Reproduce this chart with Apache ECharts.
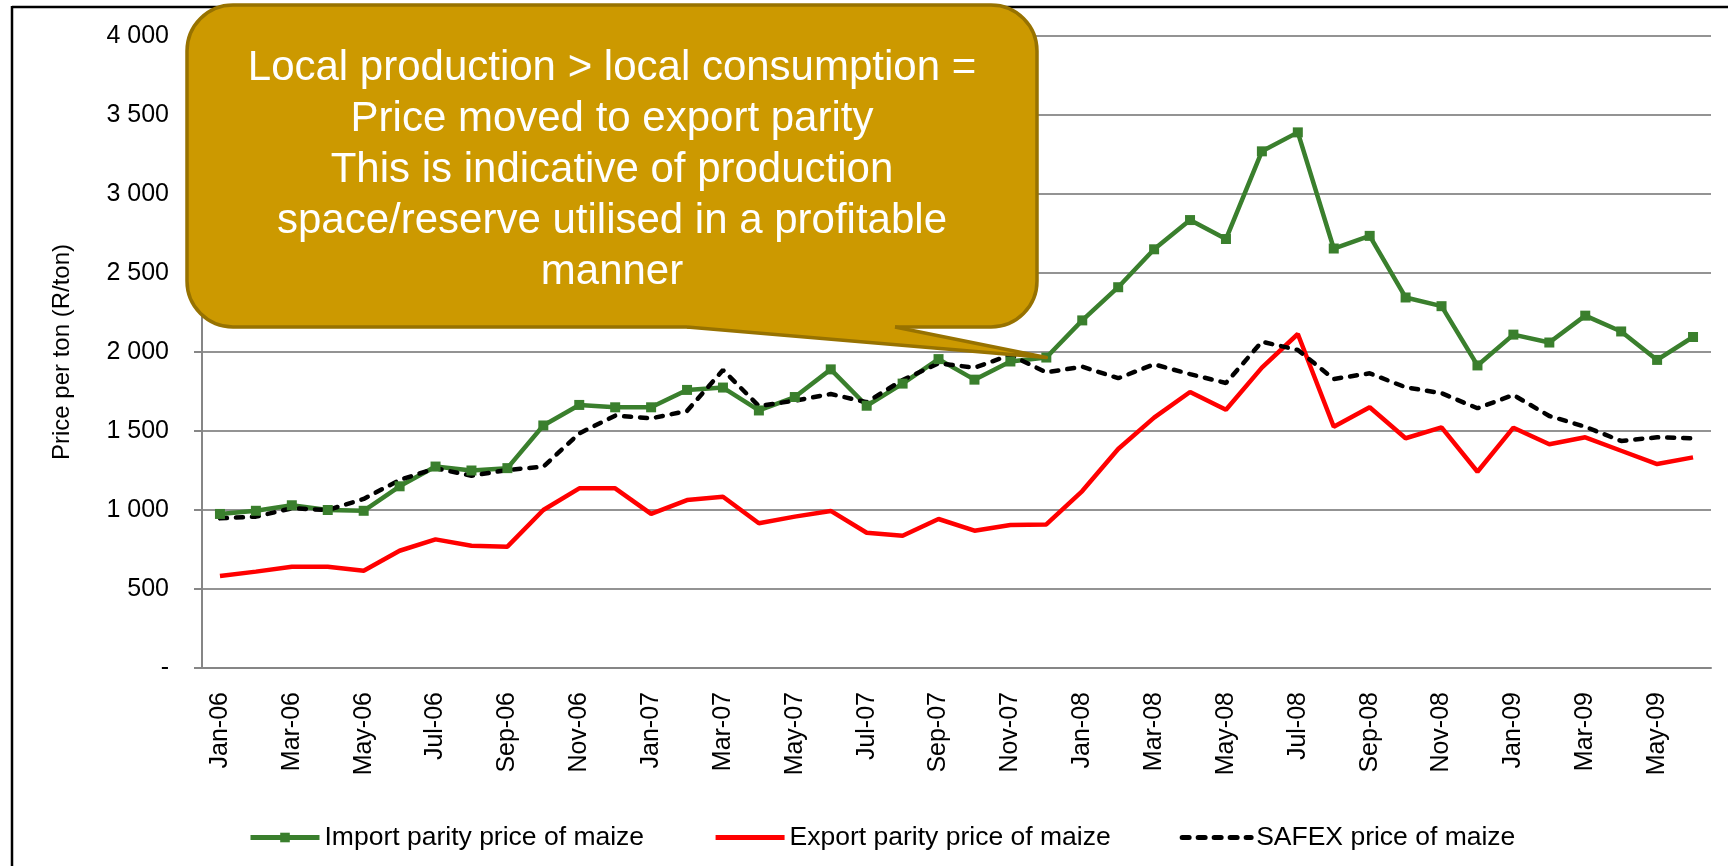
<!DOCTYPE html>
<html>
<head>
<meta charset="utf-8">
<title>Maize prices</title>
<script src="https://cdn.jsdelivr.net/npm/echarts@6/dist/echarts.min.js"></script>
<style>
    html, body { margin: 0; padding: 0; background: #fff; }
    #main { width: 1728px; height: 866px; }
</style>
</head>
<body>
<div id="main"></div>
<script>
// months Jan-06 .. Jun-09
var months = ['Jan-06','Feb-06','Mar-06','Apr-06','May-06','Jun-06','Jul-06','Aug-06','Sep-06','Oct-06','Nov-06','Dec-06',
    'Jan-07','Feb-07','Mar-07','Apr-07','May-07','Jun-07','Jul-07','Aug-07','Sep-07','Oct-07','Nov-07','Dec-07',
    'Jan-08','Feb-08','Mar-08','Apr-08','May-08','Jun-08','Jul-08','Aug-08','Sep-08','Oct-08','Nov-08','Dec-08',
    'Jan-09','Feb-09','Mar-09','Apr-09','May-09','Jun-09'];

// R/ton
var importParity = [975, 995, 1030, 1000, 995, 1150, 1275, 1250, 1265, 1535, 1665, 1650,
    1650, 1760, 1775, 1630, 1715, 1890, 1660, 1800, 1955, 1825, 1940, 1965,
    2200, 2410, 2650, 2835, 2715, 3270, 3390, 2655, 2735, 2345, 2290, 1915,
    2110, 2060, 2230, 2130, 1950, 2095];
var exportParity = [582, 610, 641, 641, 616, 742, 814, 774, 768, 1000, 1137, 1137,
    975, 1063, 1084, 916, 958, 994, 856, 837, 943, 869, 905, 909,
    1120, 1386, 1585, 1747, 1635, 1901, 2114, 1527, 1650, 1454, 1523, 1242,
    1521, 1416, 1460, 1375, 1291, 1333];
var safex = [947, 958, 1011, 1000, 1070, 1190, 1264, 1217, 1253, 1274, 1485, 1597,
    1580, 1627, 1886, 1658, 1692, 1734, 1682, 1823, 1928, 1901, 1981, 1871,
    1907, 1834, 1922, 1860, 1804, 2065, 2013, 1829, 1865, 1777, 1739, 1644,
    1728, 1595, 1527, 1437, 1460, 1454];

var seriesNames = ['Import parity price of maize', 'Export parity price of maize', 'SAFEX price of maize'];
var calloutLines = ['Local production > local consumption =', 'Price moved to export parity',
    'This is indicative of production', 'space/reserve utilised in a profitable', 'manner'];
var calloutIndex = 23; // Dec-07, where the pointer ends

var font = '"Liberation Sans", Arial, sans-serif';
var myChart = echarts.init(document.getElementById('main'));

function fmtThousands(v) {
    if (v === 0) return '-';
    var s = String(v);
    return s.length > 3 ? s.slice(0, s.length - 3) + ' ' + s.slice(-3) : s;
}

var option = {
    backgroundColor: '#fff',
    animation: false,
    textStyle: { fontFamily: font },
    grid: { left: 202, right: 17, top: 36, bottom: 198, outerBoundsMode: 'none' },
    legend: {
        left: 243, top: 819,
        itemWidth: 69, itemHeight: 12, itemGap: 69,
        lineStyle: { width: 5 },
        textStyle: { fontSize: 26.5, color: '#000', fontFamily: font },
        data: [
            { name: seriesNames[0] },
            { name: seriesNames[1], itemStyle: { opacity: 0 } },
            { name: seriesNames[2], itemStyle: { opacity: 0 } }
        ]
    },
    xAxis: {
        type: 'category',
        data: months,
        boundaryGap: true,
        axisLine: { lineStyle: { color: '#868686', width: 2 } },
        axisTick: { interval: 1, length: 7, lineStyle: { color: '#868686', width: 2 } },
        axisLabel: { interval: 1, rotate: 90, margin: 24, fontSize: 25, color: '#000', fontFamily: font }
    },
    yAxis: {
        type: 'value',
        min: 0, max: 4000, interval: 500,
        name: 'Price per ton (R/ton)',
        nameLocation: 'middle',
        nameGap: 128,
        nameTextStyle: { fontSize: 24, color: '#000', fontFamily: font },
        axisLine: { show: true, lineStyle: { color: '#868686', width: 2 } },
        axisTick: { show: true, length: 8, lineStyle: { color: '#868686', width: 2 } },
        axisLabel: { margin: 33, fontSize: 25, color: '#000', fontFamily: font, formatter: fmtThousands },
        splitLine: { lineStyle: { color: '#939393', width: 2 } }
    },
    series: [
        {
            name: seriesNames[0], type: 'line', data: importParity,
            symbol: 'rect', symbolSize: 10, showSymbol: true,
            itemStyle: { color: '#3a7f2d' },
            lineStyle: { color: '#3a7f2d', width: 4.5 }
        },
        {
            name: seriesNames[1], type: 'line', data: exportParity,
            symbol: 'none',
            itemStyle: { color: '#ff0000' },
            lineStyle: { color: '#ff0000', width: 4.5 }
        },
        {
            name: seriesNames[2], type: 'line', data: safex,
            symbol: 'none',
            itemStyle: { color: '#000' },
            lineStyle: { color: '#000', width: 4.5, type: [7, 9], cap: 'round' }
        }
    ]
};
myChart.setOption(option);

// callout box, its pointer ends on the Dec-07 import parity point
var tip = myChart.convertToPixel({ xAxisIndex: 0, yAxisIndex: 0 }, [calloutIndex, importParity[calloutIndex]]);
var L = 187, T = 5, R = 1037, B = 327;
var boxFill = '#cc9900', boxStroke = '#977200';

myChart.setOption({
    graphic: [
        { type: 'line', z: 90, shape: { x1: 12, y1: 7, x2: 1728, y2: 7 }, style: { stroke: '#000', lineWidth: 2.5 } },
        { type: 'line', z: 90, shape: { x1: 12, y1: 6, x2: 12, y2: 866 }, style: { stroke: '#000', lineWidth: 2.5 } },
        {
            type: 'rect', z: 100,
            shape: { x: L, y: T, width: R - L, height: B - T, r: 46 },
            style: { fill: boxFill, stroke: boxStroke, lineWidth: 3.5 }
        },
        // tail fill, a bit taller than the box edge so it hides the border there
        {
            type: 'polygon', z: 101,
            shape: { points: [[687, B - 4], [687, B], tip, [895, B], [895, B - 4]] },
            style: { fill: boxFill }
        },
        {
            type: 'polyline', z: 102,
            shape: { points: [[687, B], tip, [895, B]] },
            style: { fill: null, stroke: boxStroke, lineWidth: 3.5, lineJoin: 'round' }
        },
        {
            type: 'text', z: 103, x: 612, y: 170,
            style: {
                text: calloutLines.join('\n'),
                fill: '#fff', font: '42px ' + font,
                align: 'center', verticalAlign: 'middle', lineHeight: 51
            }
        }
    ]
});
</script>
</body>
</html>
